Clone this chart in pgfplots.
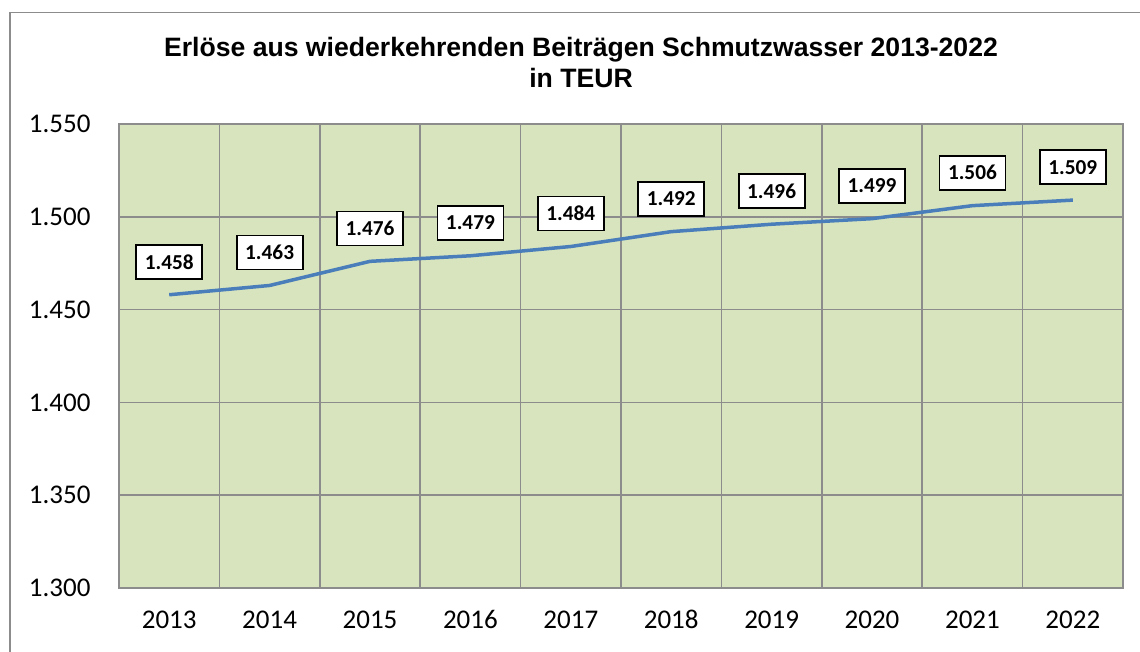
\documentclass[border=0pt]{standalone}
\usepackage{fontspec}
\setmainfont{Carlito}
\newfontfamily\arialfont{Liberation Sans}
\usepackage{pgfplots}
\pgfplotsset{compat=1.18}
\definecolor{plotbg}{HTML}{D7E4BD}
\definecolor{gridgray}{HTML}{8C8C8C}
\definecolor{lineblue}{HTML}{4A7EBB}
\begin{document}
\begin{tikzpicture}[x=1pt,y=1pt]
\useasboundingbox (0,0) rectangle (1140,651);
\draw[gridgray, line width=1.5pt] (10,-5) -- (10,638.5) -- (1150,638.5);
\node[font=\arialfont\bfseries\fontsize{26.6}{31}\selectfont, anchor=base] at (581,594) {Erlöse aus wiederkehrenden Beiträgen Schmutzwasser 2013-2022};
\node[font=\arialfont\bfseries\fontsize{26.6}{31}\selectfont, anchor=base] at (581,563) {in TEUR};
\begin{axis}[
  at={(119pt,63pt)}, anchor=south west,
  scale only axis, width=1004pt, height=464pt,
  xmin=-0.5, xmax=9.5, ymin=1300, ymax=1550,
  xtick={0,...,9},
  xticklabels={2013,2014,2015,2016,2017,2018,2019,2020,2021,2022},
  ytick={1300,1350,...,1550},
  minor xtick={-0.5,0.5,...,9.5},
  xminorgrids=true, ymajorgrids=true, xmajorgrids=false,
  major tick length=0pt, minor tick length=0pt,
  tick style={draw=none},
  minor grid style={gridgray, line width=1.5pt},
  major grid style={gridgray, line width=1.5pt},
  axis line style={gridgray, line width=1.5pt},
  axis background/.style={fill=plotbg},
  ticklabel style={font=\fontsize{27}{32}\selectfont},
  /pgf/number format/assume math mode=true,
  /pgf/number format/1000 sep={.},
  yticklabel shift=25pt,
  xticklabel shift=19pt,
  clip=false,
  point meta=explicit symbolic,
  nodes near coords,
  every node near coord/.append style={font=\bfseries\fontsize{21.3}{25}\selectfont, draw=black, line width=1.8pt, fill=white, minimum width=66pt, minimum height=34pt, inner sep=0pt, anchor=south, yshift=15pt, text=black},
]
\addplot[lineblue, line width=3.5pt, mark=none] coordinates {
(0,1458) [1.458]
(1,1463) [1.463]
(2,1476) [1.476]
(3,1479) [1.479]
(4,1484) [1.484]
(5,1492) [1.492]
(6,1496) [1.496]
(7,1499) [1.499]
(8,1506) [1.506]
(9,1509) [1.509]
};
\end{axis}
\end{tikzpicture}
\end{document}
